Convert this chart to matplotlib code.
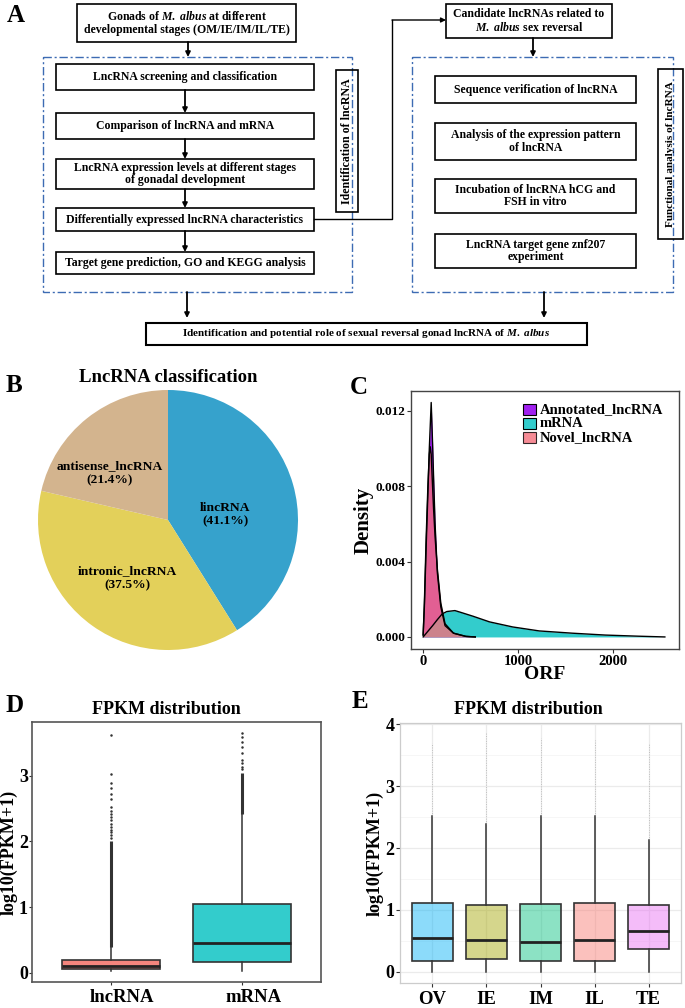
import numpy as np
import matplotlib
matplotlib.use('Agg')
import matplotlib.pyplot as plt
from matplotlib.patches import Rectangle
import matplotlib.transforms as mtransforms

plt.rcParams['font.family'] = ['Liberation Serif', 'DejaVu Serif']
plt.rcParams['font.weight'] = 'bold'
plt.rcParams['axes.labelweight'] = 'bold'
plt.rcParams['mathtext.fontset'] = 'custom'
plt.rcParams['mathtext.rm'] = 'Liberation Serif:bold'
plt.rcParams['mathtext.it'] = 'Liberation Serif:italic:bold'
plt.rcParams['mathtext.bf'] = 'Liberation Serif:bold'

# ---------------- data ----------------
# A: flowchart texts
top_text = "Gonads of $\\mathit{M.\\ albus}$ at different\ndevelopmental stages (OM/IE/IM/IL/TE)"
left_steps = ["LncRNA screening and classification",
              "Comparison of lncRNA and mRNA",
              "LncRNA expression levels at different stages\nof gonadal development",
              "Differentially expressed lncRNA characteristics",
              "Target gene prediction, GO and KEGG analysis"]
left_side = "Identification of lncRNA"
candidate_text = "Candidate lncRNAs related to\n$\\mathit{M.\\ albus}$ sex reversal"
right_steps = ["Sequence verification of lncRNA",
               "Analysis of the expression pattern\nof lncRNA",
               "Incubation of lncRNA hCG and\nFSH in vitro",
               "LncRNA target gene znf207\nexperiment"]
right_side = "Functional analysis of lncRNA"
final_text = "Identification and potential role of sexual reversal gonad lncRNA of $\\mathit{M.\\ albus}$"

# B: pie
pie_names = ["lincRNA", "intronic_lncRNA", "antisense_lncRNA"]
pie_values = [41.1, 37.5, 21.4]
pie_colors = ["#36A2CC", "#E3D05A", "#D3B48E"]

# C: ORF density curves
dens_names = ["Annotated_lncRNA", "mRNA", "Novel_lncRNA"]
annot_x = [0, 13, 32, 50, 65, 85, 100, 110, 126, 150, 186, 231, 320, 450, 550]
annot_y = [0.0001, 0.0016, 0.0048, 0.0076, 0.0100, 0.01245, 0.0102, 0.0085,
           0.0060, 0.0034, 0.0016, 0.0006, 0.0002, 0.00003, 0.0]
mrna_x = [0, 50, 100, 150, 200, 250, 335, 400, 526, 700, 945, 1224, 1572, 1921, 2270, 2549]
mrna_y = [0.0, 0.0003, 0.0006, 0.00092, 0.00122, 0.00135, 0.0014, 0.0013, 0.0011,
          0.0008, 0.00053, 0.00032, 0.0002, 0.0001, 0.00004, 0.0]
novel_x = [0, 13, 32, 50, 65, 75, 85, 95, 110, 126, 150, 186, 231, 320, 450, 550]
novel_y = [0.0001, 0.0018, 0.0053, 0.0080, 0.0097, 0.0101, 0.0097, 0.0085, 0.0068,
           0.0053, 0.0036, 0.0018, 0.0007, 0.0002, 0.00003, 0.0]
dens_colors = ["#A020F0", "#33CCCC", "#F4707C"]

# D: FPKM distribution lncRNA vs mRNA
d_names = ["lncRNA", "mRNA"]
d_colors = ["#F4857D", "#33CCCC"]
d_q1 = [0.06, 0.17]
d_med = [0.11, 0.46]
d_q3 = [0.20, 1.05]
d_lo = [0.02, 0.03]
d_hi = [0.40, 2.42]
d_dense_runs = [(0.40, 2.00), (2.42, 3.05)]
d_fliers = [[2.05, 2.1, 2.14, 2.18, 2.22, 2.27, 2.33, 2.38, 2.42, 2.47, 2.52,
             2.64, 2.72, 2.82, 2.89, 3.03, 3.62],
            [3.1, 3.14, 3.19, 3.24, 3.35, 3.44, 3.52, 3.59, 3.65]]

# E: FPKM distribution by stage
e_names = ["OV", "IE", "IM", "IL", "TE"]
e_colors = ["#00B0F6", "#A3A500", "#00BF7D", "#F8766D", "#E76BF3"]
e_q1 = [0.18, 0.20, 0.17, 0.18, 0.37]
e_med = [0.54, 0.52, 0.49, 0.52, 0.66]
e_q3 = [1.11, 1.08, 1.09, 1.12, 1.08]
e_lo = [0.0, 0.0, 0.0, 0.0, 0.0]
e_hi = [2.51, 2.39, 2.51, 2.51, 2.13]
e_max = [3.69, 3.88, 3.77, 3.74, 3.70]

# ---------------- figure ----------------
W, H = 685, 1008
fig = plt.figure(figsize=(6.85, 10.08), dpi=100)
ax0 = fig.add_axes([0, 0, 1, 1])
ax0.set_xlim(0, W)
ax0.set_ylim(H, 0)
ax0.axis('off')


def frac(x0, y0, x1, y1):
    return [x0 / W, 1 - y1 / H, (x1 - x0) / W, (y1 - y0) / H]


def box(x0, y0, x1, y1, text, size=8.5, rot=0, lw=1.2):
    ax0.add_patch(Rectangle((x0, y0), x1 - x0, y1 - y0, fill=False, ec='k', lw=lw))
    ax0.text((x0 + x1) / 2, (y0 + y1) / 2, text, ha='center', va='center',
             fontsize=size, rotation=rot, linespacing=1.1)


def arrow(x, y0, y1):
    ax0.annotate('', xy=(x, y1), xytext=(x, y0),
                 arrowprops=dict(arrowstyle='-|>', color='k', lw=1.3, mutation_scale=7,
                                 shrinkA=0, shrinkB=0))


dash = (0, (6, 2, 1.5, 2))
blue = '#3D6BB3'

# panel A
box(77, 4, 296, 42, top_text, size=8.5)
arrow(188, 42, 57)
ax0.add_patch(Rectangle((43, 57), 309, 235, fill=False, ec=blue, lw=1, ls=dash))
left_rows = [(64, 90), (113, 139), (159, 189), (208, 231), (252, 274)]
for i, (txt, (ya, yb)) in enumerate(zip(left_steps, left_rows)):
    box(56, ya, 314, yb, txt)
    if i < len(left_rows) - 1:
        arrow(185, yb, left_rows[i + 1][0])
box(336, 70, 358, 212, left_side, size=8.6, rot=90)

ax0.plot([314, 392, 392], [219, 219, 20], color='k', lw=1)
ax0.annotate('', xy=(446, 20), xytext=(392, 20),
             arrowprops=dict(arrowstyle='-|>', color='k', lw=1, mutation_scale=7,
                             shrinkA=0, shrinkB=0))
box(446, 4, 612, 38, candidate_text)
arrow(533, 38, 57)
ax0.add_patch(Rectangle((412, 57), 261, 235, fill=False, ec=blue, lw=1, ls=dash))
right_rows = [(76, 103), (123, 160), (179, 213), (234, 268)]
for txt, (ya, yb) in zip(right_steps, right_rows):
    box(435, ya, 636, yb, txt)
box(658, 69, 683, 239, right_side, size=8.1, rot=90)

arrow(187, 292, 318)
arrow(544, 292, 318)
box(146, 323, 587, 345, final_text, size=8, lw=1.5)

letters = [("A", 16, 15), ("B", 14, 386), ("C", 359, 388), ("D", 15, 706), ("E", 360, 702)]
for s, lx, ly in letters:
    ax0.text(lx, ly, s, fontsize=18, ha='center', va='center')

# panel B
axb = fig.add_axes(frac(38, 390, 298, 650))
pie_labels = [f"{n}\n({v:.1f}%)" for n, v in zip(pie_names, pie_values)]
wedges, texts = axb.pie(pie_values, colors=pie_colors, startangle=90, counterclock=False,
                        labels=pie_labels, labeldistance=0.5)
label_pos = [(0.44, 0.04), (-0.31, -0.45), (-0.45, 0.36)]
for t, xy in zip(texts, label_pos):
    t.set_position(xy)
    t.set_ha('center')
    t.set_va('center')
    t.set_fontsize(9.7)
axb.set_xlim(-1, 1)
axb.set_ylim(-1, 1)
ax0.text(168, 378, "LncRNA classification", fontsize=13.5, ha='center', va='center')

# panel C
axc = fig.add_axes(frac(411, 391, 679, 649))
series = [(annot_x, annot_y), (mrna_x, mrna_y), (novel_x, novel_y)]
alphas = [1.0, 1.0, 0.8]
for (xs, ys), c, a in zip(series, dens_colors, alphas):
    axc.fill_between(xs, ys, 0, color=c, alpha=a, lw=0)
    axc.plot(xs, ys, color='k', lw=1)
axc.set_xlim(-128, 2698)
axc.set_ylim(-0.00064, 0.01306)
axc.set_xticks([0, 1000, 2000])
axc.set_yticks([0, 0.004, 0.008, 0.012])
axc.set_yticklabels(['0.000', '0.004', '0.008', '0.012'])
axc.tick_params(axis='y', labelsize=9.5, length=3, pad=1, color='#333')
axc.tick_params(axis='x', labelsize=10.5, length=3, pad=1, color='#333')
axc.set_ylabel("Density", fontsize=15, labelpad=1)
axc.set_xlabel("ORF", fontsize=14, labelpad=-1)
for sp in axc.spines.values():
    sp.set_color('#444')
    sp.set_linewidth(1)
for i, (n, c, a) in enumerate(zip(dens_names, dens_colors, alphas)):
    yy = 0.928 - i * 0.054
    axc.add_patch(Rectangle((0.418, yy - 0.022), 0.05, 0.044, transform=axc.transAxes,
                            fc=c, alpha=a, ec='k', lw=0.8))
    axc.text(0.48, yy, n, transform=axc.transAxes, fontsize=10.5, va='center', ha='left')

# panel D
axd = fig.add_axes(frac(32, 722, 321, 982))
d_stats = [dict(med=m, q1=a, q3=b, whislo=lo, whishi=hi, fliers=[])
           for m, a, b, lo, hi in zip(d_med, d_q1, d_q3, d_lo, d_hi)]
bp = axd.bxp(d_stats, positions=[1, 2], widths=0.75, patch_artist=True, showcaps=False,
             showfliers=False,
             boxprops=dict(ec='#333', lw=1.2),
             whiskerprops=dict(color='#333', lw=1.1),
             medianprops=dict(color='#222', lw=2))
for p, c in zip(bp['boxes'], d_colors):
    p.set_facecolor(c)
for pos, (lo, hi), fl in zip([1, 2], d_dense_runs, d_fliers):
    axd.vlines(pos, lo, hi, color='#333', lw=2.2)
    axd.plot([pos] * len(fl), fl, 'o', ms=1.8, color='#333', mec='none')
axd.set_xlim(0.4, 2.6)
axd.set_ylim(-0.14, 3.82)
axd.set_xticks([1, 2])
axd.set_xticklabels(d_names)
axd.set_yticks([0, 1, 2, 3])
axd.tick_params(axis='y', labelsize=13, length=2, pad=1, color='#333')
axd.tick_params(axis='x', labelsize=13.5, length=2, pad=3, color='#333')
shift = mtransforms.ScaledTranslation(0.11, 0, fig.dpi_scale_trans)
for lbl in axd.get_xticklabels():
    lbl.set_transform(lbl.get_transform() + shift)
axd.set_ylabel("log10(FPKM+1)", fontsize=13, labelpad=1)
for sp in axd.spines.values():
    sp.set_color('#555')
    sp.set_linewidth(1.2)
ax0.text(166, 710, "FPKM distribution", fontsize=13, ha='center', va='center')

# panel E
axe = fig.add_axes(frac(400, 723, 681, 983))
pos_e = np.arange(1, len(e_names) + 1)
axe.set_yticks(np.arange(0.5, 4, 1), minor=True)
axe.grid(which='major', color='#EBEBEB', lw=0.9)
axe.grid(which='minor', axis='y', color='#F3F3F3', lw=0.5)
axe.set_axisbelow(True)
e_stats = [dict(med=m, q1=a, q3=b, whislo=lo, whishi=hi, fliers=[])
           for m, a, b, lo, hi in zip(e_med, e_q1, e_q3, e_lo, e_hi)]
bpe = axe.bxp(e_stats, positions=pos_e, widths=0.75, patch_artist=True, showcaps=False,
              showfliers=False,
              boxprops=dict(ec='#333', lw=1.2),
              whiskerprops=dict(color='#333', lw=1.1),
              medianprops=dict(color='#222', lw=2))
for p, c in zip(bpe['boxes'], e_colors):
    p.set_facecolor(matplotlib.colors.to_rgba(c, 0.45))
for pos, hi, mx in zip(pos_e, e_hi, e_max):
    axe.vlines(pos, hi, mx, color='#888', lw=0.7, alpha=0.45, linestyles=(0, (1, 1.5)))
axe.set_xlim(0.4, 5.6)
axe.set_ylim(-0.18, 4.02)
axe.set_xticks(pos_e)
axe.set_xticklabels(e_names)
axe.set_yticks([0, 1, 2, 3, 4])
axe.tick_params(axis='y', labelsize=13, length=3, pad=1, color='#333')
axe.tick_params(axis='x', labelsize=13.5, length=3, pad=3, color='#333')
axe.tick_params(which='minor', length=0)
axe.set_ylabel("log10(FPKM+1)", fontsize=13, labelpad=1)
for sp in axe.spines.values():
    sp.set_color('#CCCCCC')
    sp.set_linewidth(0.9)
ax0.text(528, 710, "FPKM distribution", fontsize=13, ha='center', va='center')

fig.savefig("out.png", dpi=100)
